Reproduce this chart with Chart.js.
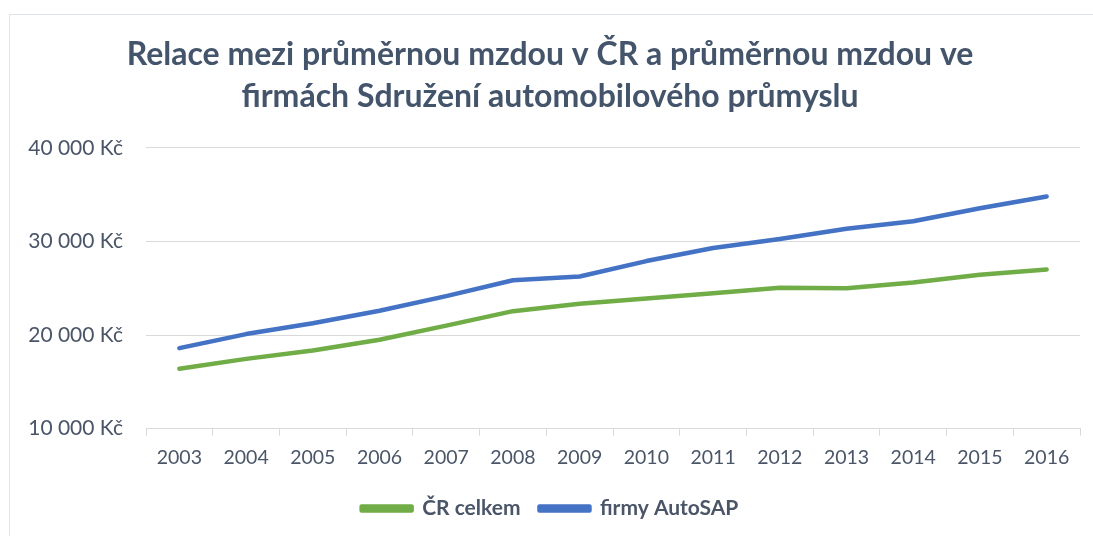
<!DOCTYPE html>
<html>
<head>
<meta charset="utf-8">
<script src="https://cdn.jsdelivr.net/npm/chart.js"></script>
<style>
  html, body { margin: 0; padding: 0; background: #fff; }
  #wrap { width: 1093px; height: 536px; }
</style>
</head>
<body>
<div id="wrap"><canvas id="myChart" width="1093" height="536"></canvas></div>
<script>
// data block
const years = ['2003', '2004', '2005', '2006', '2007', '2008', '2009', '2010', '2011', '2012', '2013', '2014', '2015', '2016'];
const crCelkem = [16400, 17450, 18350, 19500, 21000, 22550, 23350, 23900, 24450, 25050, 25000, 25600, 26450, 27000];
const autoSap = [18600, 20100, 21250, 22600, 24150, 25850, 26250, 27900, 29300, 30250, 31350, 32150, 33550, 34800];
const yTicks = [10000, 20000, 30000, 40000];

const textFont = "Lato, 'Open Sans', sans-serif";
const textColor = '#4A5568';

// light border round the whole chart
const chartFrame = {
    id: 'chartFrame',
    beforeDraw(chart) {
        const {ctx, width, height} = chart;
        ctx.save();
        ctx.strokeStyle = '#dfe3ea';
        ctx.lineWidth = 1;
        ctx.strokeRect(9.5, 14.5, width + 10, height + 10);
        ctx.restore();
    }
};

const data = {
    labels: years,
    datasets: [{
        label: 'ČR celkem',
        data: crCelkem,
        borderColor: '#70AD47',
        backgroundColor: '#70AD47'
    }, {
        label: 'firmy AutoSAP',
        data: autoSap,
        borderColor: '#4472C4',
        backgroundColor: '#4472C4'
    }]
};

const config = {
    type: 'line',
    data: data,
    options: {
        responsive: false,
        animation: false,
        layout: {
            padding: {left: 20, right: 13, top: 24, bottom: 7}
        },
        elements: {
            line: {borderWidth: 4.5, borderCapStyle: 'round', borderJoinStyle: 'round', tension: 0},
            point: {radius: 0}
        },
        scales: {
            x: {
                offset: true,
                grid: {
                    offset: true,
                    drawOnChartArea: false,
                    drawTicks: true,
                    tickLength: 7,
                    color: '#d9d9d9'
                },
                border: {color: '#d9d9d9', width: 1},
                ticks: {
                    color: textColor,
                    font: {family: textFont, size: 19.5},
                    padding: 10,
                    maxRotation: 0
                }
            },
            y: {
                min: 10000,
                max: 40000,
                afterBuildTicks(scale) {
                    scale.ticks = yTicks.map(v => ({value: v}));
                },
                afterFit(scale) {
                    scale.width = 126;
                },
                grid: {color: '#d9d9d9', drawTicks: false},
                border: {display: false},
                ticks: {
                    color: textColor,
                    font: {family: textFont, size: 21},
                    padding: 23,
                    callback: v => v.toLocaleString('cs-CZ').replace(/\s/g, ' ') + ' Kč'
                }
            }
        },
        plugins: {
            title: {
                display: true,
                text: ['Relace mezi průměrnou mzdou v ČR a průměrnou mzdou ve', 'firmách Sdružení automobilového průmyslu'],
                color: '#44546A',
                font: {family: textFont, size: 32, weight: 'bold', lineHeight: 1.31},
                padding: {top: 10, bottom: 30}
            },
            legend: {
                position: 'bottom',
                labels: {
                    boxWidth: 50,
                    boxHeight: 4,
                    padding: 19,
                    color: textColor,
                    font: {family: textFont, size: 21, weight: 'bold'}
                }
            },
            tooltip: {enabled: false}
        }
    },
    plugins: [chartFrame]
};

const myChart = new Chart(
    document.getElementById('myChart'),
    config
);
</script>
</body>
</html>
